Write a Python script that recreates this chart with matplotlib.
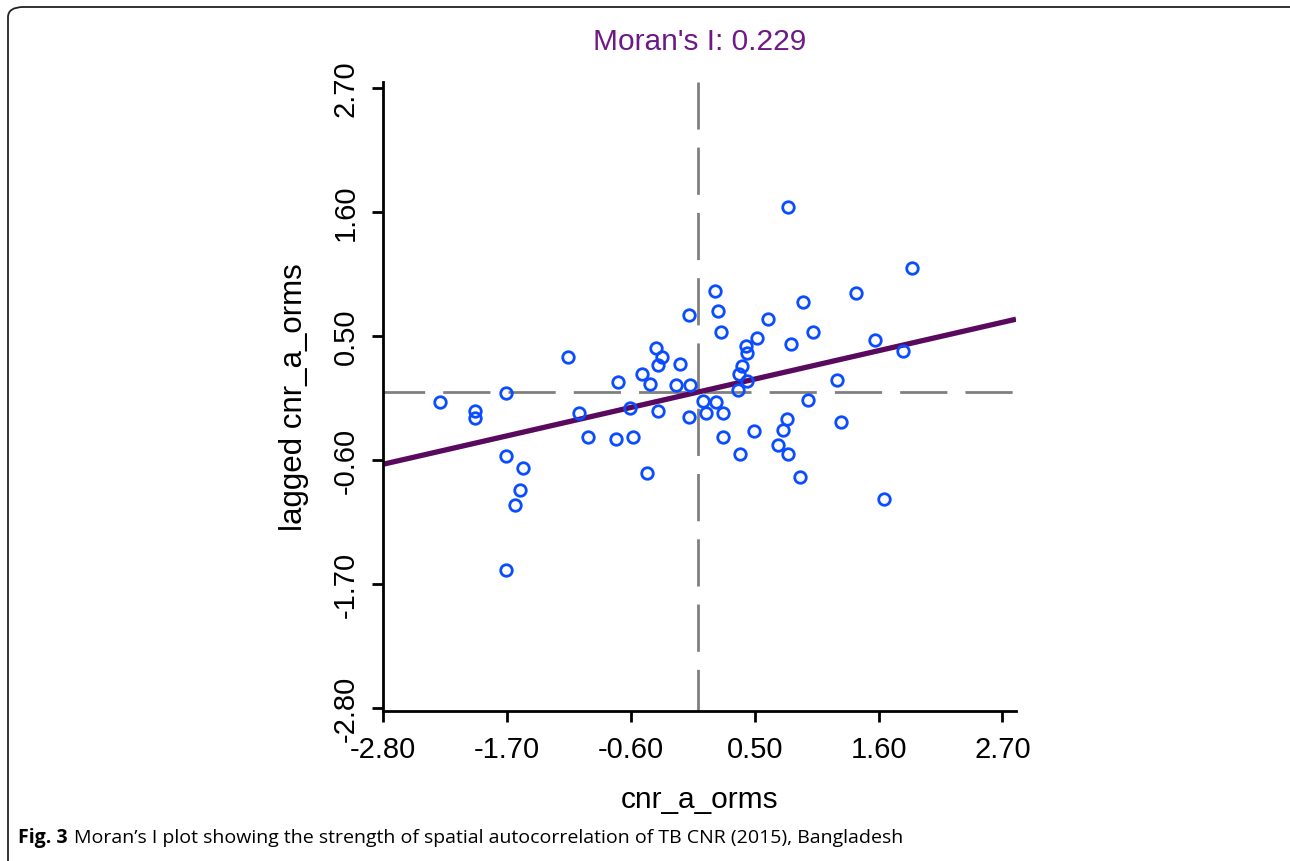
import matplotlib
matplotlib.use("Agg")
import matplotlib.pyplot as plt
from matplotlib.patches import FancyBboxPatch

plt.rcParams["axes.unicode_minus"] = False

MORANS_I = 0.229
TICKS = [-2.80, -1.70, -0.60, 0.50, 1.60, 2.70]

# standardized CNR (x) and its spatial lag (y)
cnr_x = [-2.29, -1.98, -1.98, -1.71, -1.71, -1.56, -1.58, -1.63, -1.71, -1.16,
         -1.06, -0.98, -0.73, -0.58, -0.46, -0.71, -0.61, -0.50, -0.43, -0.38,
         -0.32, -0.36, -0.16, -0.20, -0.36, -0.07, -0.08, -0.08, 0.15, 0.17,
         0.20, 0.80, 1.90, 1.40, 0.93, 0.62, 1.02, 0.52, 0.42, 0.43,
         0.82, 1.57, 1.82, 0.39, 0.36, 0.43, 0.35, 1.23, 0.04, 0.16,
         0.07, 0.22, 0.97, 0.79, 1.27, 0.75, 0.49, 0.22, 0.71, 0.80,
         0.37, 0.90, 1.65]
lag_y = [-0.09, -0.17, -0.23, -0.01, -0.57, -0.67, -0.87, -1.00, -1.58, 0.31,
         -0.19, -0.40, -0.42, -0.40, -0.72, 0.09, -0.14, 0.16, 0.07, 0.39,
         0.31, 0.24, 0.25, 0.06, -0.17, 0.06, 0.68, -0.22, 0.90, 0.72,
         0.53, 1.64, 1.10, 0.88, 0.80, 0.65, 0.53, 0.48, 0.41, 0.35,
         0.43, 0.46, 0.36, 0.23, 0.16, 0.10, 0.02, 0.11, -0.08, -0.09,
         -0.19, -0.19, -0.07, -0.24, -0.27, -0.34, -0.35, -0.40, -0.47, -0.55,
         -0.55, -0.75, -0.95]

XLIM = (-2.80, 2.82)
YLIM = (-2.83, 2.75)

sans = ["Liberation Sans", "DejaVu Sans"]

fig = plt.figure(figsize=(12.9, 8.62), dpi=100)
ax = fig.add_axes([383 / 1290, 150 / 862, 633 / 1290, 629 / 862])
ax.set_xlim(*XLIM)
ax.set_ylim(*YLIM)

# quadrant lines
ax.axvline(0, color="#808080", lw=2, linestyle=(2, (17, 6.5)), zorder=1)
ax.axhline(0, color="#808080", lw=2, linestyle=(2, (17, 6.5)), zorder=1)

# regression line, slope = Moran's I
ax.plot(list(XLIM), [MORANS_I * XLIM[0], MORANS_I * XLIM[1]],
        color="#5a0a5e", lw=3.8, zorder=2, solid_capstyle="butt")

ax.plot(cnr_x, lag_y, "o", ms=8.3, mfc="none", mec="#0a4cff", mew=2.0, zorder=3)

for side in ["top", "right"]:
    ax.spines[side].set_visible(False)
for side in ["left", "bottom"]:
    ax.spines[side].set_linewidth(2)

ax.set_xticks(TICKS)
ax.set_yticks(TICKS)
ax.set_xticklabels([f"{t:.2f}" for t in TICKS], fontsize=21, family=sans)
ax.set_yticklabels([f"{t:.2f}" for t in TICKS], fontsize=21, family=sans,
                   rotation=90, va="center")
ax.tick_params(direction="out", length=8, width=2, pad=9)

ax.set_xlabel("cnr_a_orms", fontsize=21.5, family=sans, labelpad=16)
ax.set_ylabel("lagged cnr_a_orms", fontsize=22.5, family=sans, labelpad=16)
ax.set_title(f"Moran's I: {MORANS_I:.3f}", fontsize=21.5, family=sans,
             color="#6e1a86", pad=24)

# rounded frame of the figure panel
frame = FancyBboxPatch((8 / 1290, -0.05), 1.05, (862 - 8) / 862 + 0.05,
                       boxstyle="round,pad=0,rounding_size=0.012",
                       transform=fig.transFigure, fill=False,
                       ec="#222222", lw=1.3, clip_on=False)
fig.patches.append(frame)

# caption
cap1 = fig.text(18 / 1290, 1 - 838 / 862, "Fig. 3", fontsize=14,
                family="Open Sans", weight="bold", va="center")
fig.canvas.draw()
bb = cap1.get_window_extent()
fig.text((bb.x1 + 6) / 1290, 1 - 838 / 862,
         "Moran\u2019s I plot showing the strength of spatial autocorrelation "
         "of TB CNR (2015), Bangladesh",
         fontsize=14, family="Open Sans", va="center")

fig.savefig("out.png", dpi=100)
